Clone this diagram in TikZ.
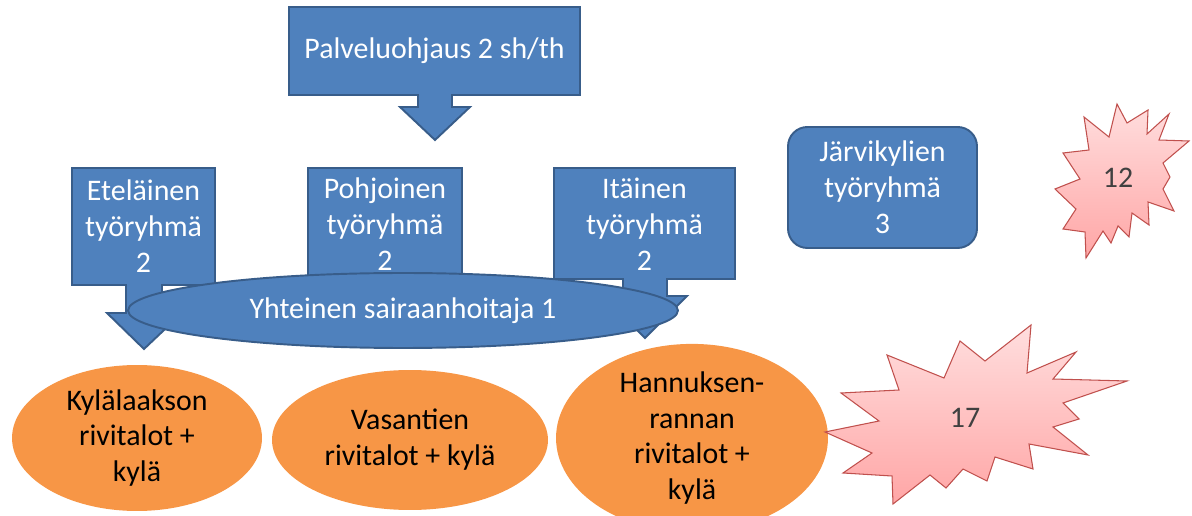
\documentclass[tikz,border=0pt]{standalone}
\usepackage{fontspec}
\setmainfont{Carlito}
\usepackage{tikz}
\usetikzlibrary{shapes.geometric}
\usepackage{xcolor}
\definecolor{sininen}{HTML}{4F81BD}
\definecolor{sinireuna}{HTML}{385D8A}
\definecolor{oranssi}{HTML}{F79646}
\definecolor{tahtiyla}{HTML}{FFDEDE}
\definecolor{tahtiala}{HTML}{FFA6A6}
\definecolor{tahtireuna}{HTML}{C0504D}
\definecolor{tumma}{HTML}{404040}
\newcommand{\teksti}{\fontsize{17}{20.4}\selectfont}
\tikzset{
  laatikko/.style={fill=sininen, draw=sinireuna, line width=1.1pt},
  valkoteksti/.style={text=white, align=center, font=\teksti, inner sep=0pt},
  alue/.style={ellipse, fill=oranssi, inner sep=0pt, align=center, font=\teksti, text=black},
  tahti/.style={top color=tahtiyla, bottom color=tahtiala, draw=tahtireuna, line width=0.6pt},
}

\begin{document}
\begin{tikzpicture}[x=0.02cm, y=-0.02cm]
\useasboundingbox (0,0) rectangle (1192,516);
% ylin nuoli
\filldraw [laatikko] (289,7) -- (580,7) -- (580,95) -- (452,95) -- (452,107) -- (470,107) -- (435,140) -- (400,107) -- (418,107) -- (418,95) -- (289,95) -- cycle;
\node [valkoteksti] (palveluohjaus) at (434.5,51) {Palveluohjaus 2 sh/th};
% tyoryhmat
\filldraw [laatikko] (72,168) -- (215,168) -- (215,285) -- (162,285) -- (162,313) -- (182,313) -- (144,349) -- (107,313) -- (126,313) -- (126,285) -- (72,285) -- cycle;
\node [valkoteksti] (etelainen) at (143.5,226) {Eteläinen\\työryhmä\\2};
\filldraw [laatikko] (308,168) -- (462,168) -- (462,280) -- (403,280) -- (403,300) -- (423,300) -- (385,335) -- (347,300) -- (367,300) -- (367,280) -- (308,280) -- cycle;
\node [valkoteksti] (pohjoinen) at (385,224) {Pohjoinen\\työryhmä\\2};
\filldraw [laatikko] (554,168) -- (735,168) -- (735,279) -- (667,279) -- (667,296) -- (687,296) -- (645,338) -- (603,296) -- (623,296) -- (623,279) -- (554,279) -- cycle;
\node [valkoteksti] (itainen) at (644.5,224) {Itäinen\\työryhmä\\2};
\node [laatikko, ellipse, minimum width=11cm, minimum height=1.5cm, inner sep=0pt, text=white, font=\teksti] (sairaanhoitaja) at (403,310.5) {Yhteinen sairaanhoitaja 1};
\node [laatikko, rounded corners=11pt, minimum width=3.78cm, minimum height=2.42cm, inner sep=0pt, align=center, text=white, font=\teksti] (jarvikylat) at (882.5,187.5) {Järvikylien\\työryhmä\\3};
% alueet
\node [alue, minimum width=5cm, minimum height=2.92cm] (kylalaakso) at (137,438) {Kylälaakson\\rivitalot +\\kylä};
\node [alue, minimum width=5.52cm, minimum height=2.8cm] (vasantie) at (410,440) {Vasantien\\rivitalot + kylä};
\node [alue, minimum width=5.44cm, minimum height=3.04cm] (hannuksenranta) at (692,438) {Hannuksen-\\rannan\\rivitalot +\\kylä};
% tahdet
\draw [tahti] (825,432) -- (872,453) -- (843,473) -- (892,476) -- (893,504) -- (930,475) -- (946,488) -- (963,469) -- (987,481) -- (995,457) -- (1033,469) -- (1029,444) -- (1088,455) -- (1053,427) -- (1079,419) -- (1063,403) -- (1127,381) -- (1053,379) -- (1076,352) -- (1027,373) -- (1031,325) -- (985,361) -- (960,341) -- (944,378) -- (887,355) -- (899,390) -- (841,393) -- (879,421) -- cycle;
\node [text=tumma, font=\teksti] (seitsemantoista) at (965,418) {17};
\draw [tahti] (1055,189) -- (1076,209) -- (1063,229) -- (1085,232) -- (1086,258) -- (1103,231) -- (1111,243) -- (1118,226) -- (1129,237) -- (1132,213) -- (1149,225) -- (1148,202) -- (1174,211) -- (1163,189) -- (1170,177) -- (1163,163) -- (1189,141) -- (1159,140) -- (1169,114) -- (1147,134) -- (1148,110) -- (1127,123) -- (1117,104) -- (1109,137) -- (1084,117) -- (1089,150) -- (1063,153) -- (1080,179) -- cycle;
\node [text=tumma, font=\teksti] (kaksitoista) at (1118,178) {12};
\end{tikzpicture}
\end{document}
